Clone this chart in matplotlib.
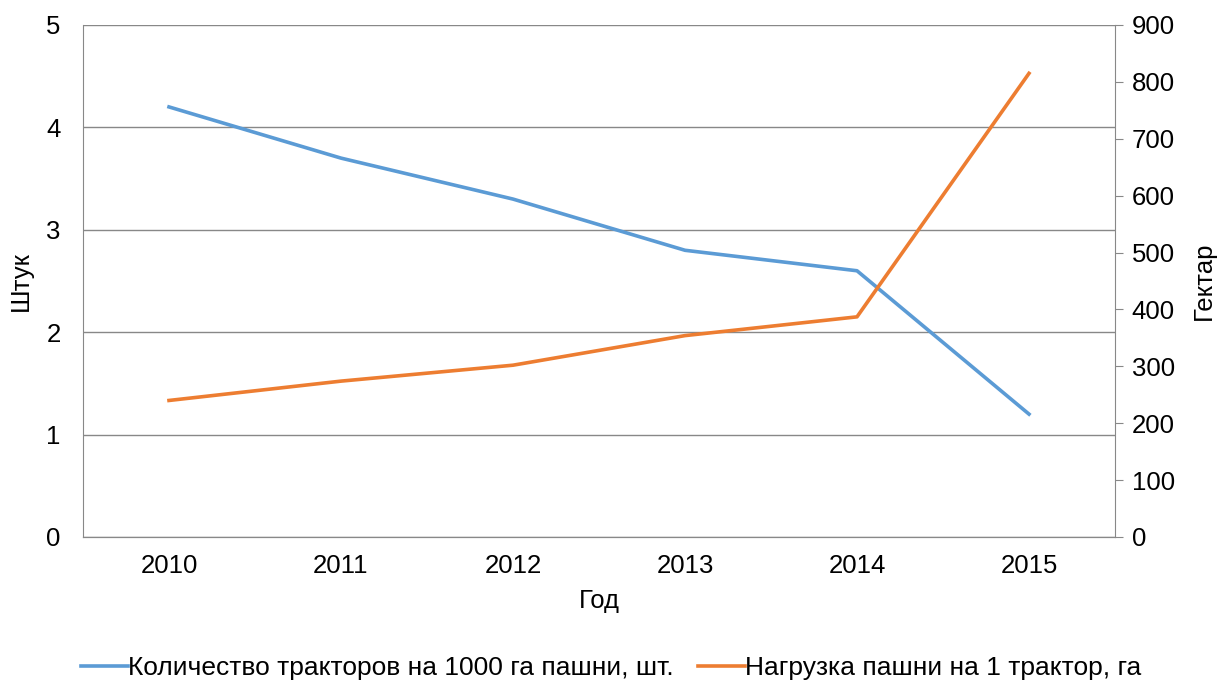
import numpy as np
import matplotlib.pyplot as plt

plt.rcParams['font.family'] = ['Liberation Sans', 'DejaVu Sans']

years = ['2010', '2011', '2012', '2013', '2014', '2015']
tractors = [4.2, 3.7, 3.3, 2.8, 2.6, 1.2]
load = [240, 274, 302, 354, 387, 815]

blue = '#5B9BD5'
orange = '#ED7D31'
grey = '#888888'
fs = 18.5

fig = plt.figure(figsize=(12.22, 6.8), dpi=100)
ax = fig.add_axes([83/1222, 1-537/680, (1115-83)/1222, (537-25)/680])
ax2 = ax.twinx()

x = np.arange(len(years))
ax.plot(x, tractors, color=blue, lw=2.6, label='Количество тракторов на 1000 га пашни, шт.')
ax2.plot(x, load, color=orange, lw=2.6, label='Нагрузка пашни на 1 трактор, га')

ax.set_xlim(-0.5, 5.5)
ax.set_ylim(0, 5)
ax2.set_ylim(0, 900)
ax.set_yticks(range(0, 6))
ax2.set_yticks(range(0, 1000, 100))
ax.set_xticks(x)
ax.set_xticklabels(years)

ax.grid(axis='y', color=grey, lw=1)
ax.set_axisbelow(True)
for a in (ax, ax2):
    for s in a.spines.values():
        s.set_color(grey)
    a.spines['top'].set_visible(False)
ax2.spines['left'].set_visible(False)
ax.spines['right'].set_visible(False)

ax.tick_params(axis='y', length=0, labelsize=fs, pad=16)
ax.tick_params(axis='x', length=0, labelsize=fs, pad=12)
ax2.tick_params(axis='y', length=6, color=grey, labelsize=fs, pad=6)

ax.set_xlabel('Год', fontsize=fs, labelpad=8)
ax.set_ylabel('Штук', fontsize=fs, labelpad=10)
ax2.set_ylabel('Гектар', fontsize=fs, labelpad=12)

h1, l1 = ax.get_legend_handles_labels()
h2, l2 = ax2.get_legend_handles_labels()
fig.legend(h1 + h2, l1 + l2, loc='lower center', bbox_to_anchor=(0.5, -0.035),
           ncol=2, frameon=False, fontsize=19, handlelength=1.8, handletextpad=0.0,
           columnspacing=0.9)

fig.savefig('out.png', dpi=100)
